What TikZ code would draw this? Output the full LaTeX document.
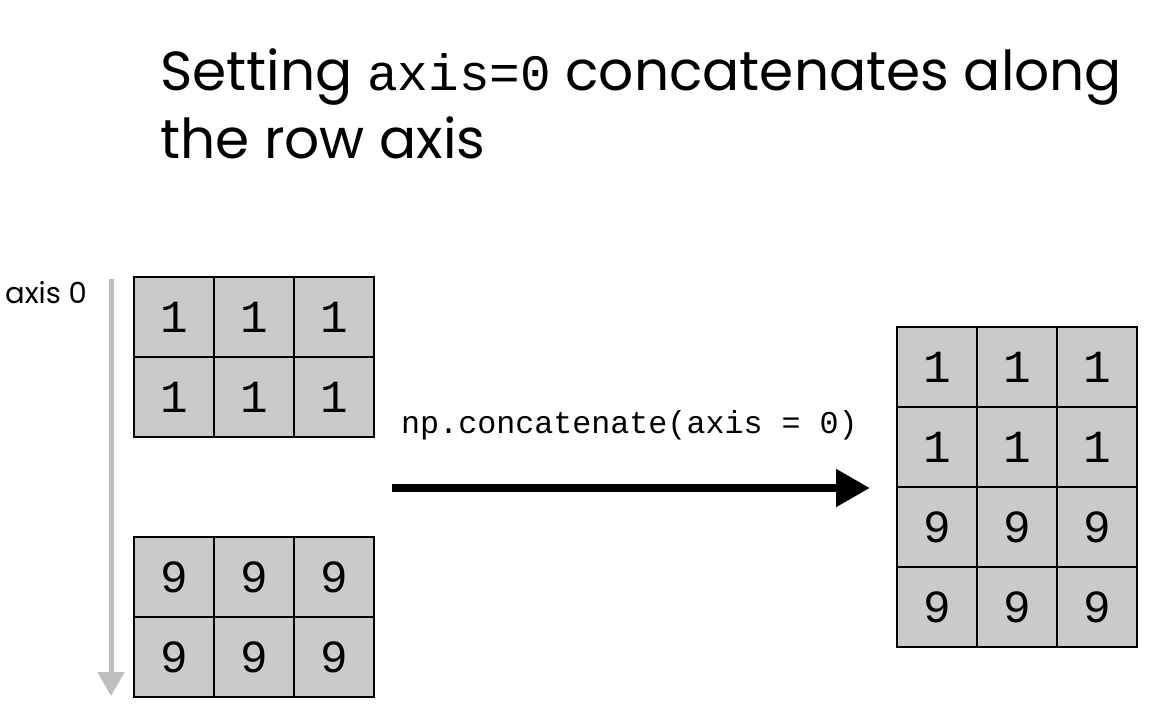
\documentclass[tikz,border=0pt]{standalone}
\usepackage{fontspec}
\setmainfont{Poppins}
\setmonofont{Liberation Mono}
\usetikzlibrary{arrows.meta}
\definecolor{cellgray}{HTML}{CACACC}
\definecolor{axisgray}{HTML}{BEBEC1}
\begin{document}
\begin{tikzpicture}[x=1pt,y=-1pt,
  cell/.style={draw=black, line width=2.5pt, fill=cellgray, minimum size=80pt, inner sep=0pt, font=\fontsize{46}{46}\selectfont\ttfamily},
  titletext/.style={anchor=base west, inner sep=0pt, font=\fontsize{55}{68}\selectfont},
  labeltext/.style={anchor=base west, inner sep=0pt}]
\useasboundingbox (0,0) rectangle (1176,704);
% title
\node[titletext] (title1) at (160,90) {Setting {\fontsize{51}{68}\selectfont\ttfamily axis=0} concatenates along};
\node[titletext] (title2) at (160,158) {the row axis};
% axis arrow
\node[labeltext, font=\fontsize{29}{29}\selectfont] (axlabel) at (5,303) {axis 0};
\coordinate (axtop) at (111,279);
\coordinate (axbot) at (111,696);
\draw[axisgray, line width=5pt, -{Triangle[length=24pt,width=26pt]}] (axtop) -- (axbot);
% left grids
\foreach \c/\x in {1/174,2/254,3/334}{
  \foreach \r/\y in {1/317,2/397}{
    \node[cell] (a\r\c) at (\x,\y) {1};
  }
  \foreach \r/\y in {1/577,2/657}{
    \node[cell] (b\r\c) at (\x,\y) {9};
  }
}
% result grid
\foreach \c/\x in {1/937,2/1017,3/1097}{
  \foreach \r/\y/\v in {1/367/1,2/447/1,3/527/9,4/607/9}{
    \node[cell] (r\r\c) at (\x,\y) {\v};
  }
}
% main arrow
\coordinate (arrs) at (392,488);
\coordinate (arre) at (870,488);
\draw[black, line width=8pt, -{Triangle[length=34pt,width=36pt]}] (arrs) -- (arre);
\node[labeltext, font=\fontsize{31.7}{32}\selectfont\ttfamily] (oplabel) at (401,433) {np.concatenate(axis = 0)};
\end{tikzpicture}
\end{document}
